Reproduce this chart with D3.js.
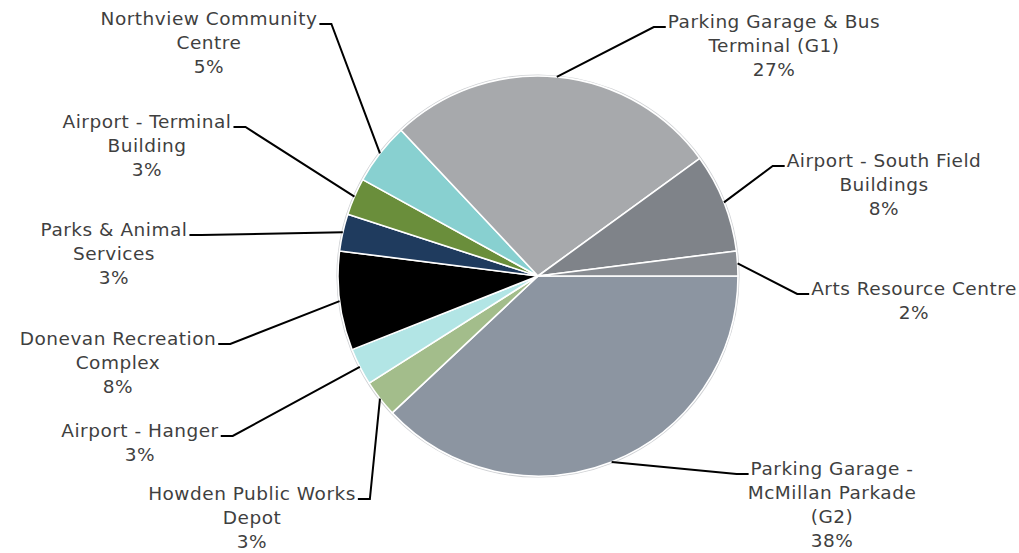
<!DOCTYPE html>
<html>
<head>
<meta charset="utf-8">
<script src="https://cdn.jsdelivr.net/npm/d3@7"></script>
<style>
  html, body { margin: 0; padding: 0; background: #ffffff; }
  svg { display: block; }
  .lbl { font-family: "DejaVu Sans", sans-serif; font-size: 18.5px; letter-spacing: 0.5px; fill: #3f3f3f; }
</style>
</head>
<body>
<svg id="chart" width="1019" height="553"></svg>
<script>
// Facilities, clockwise from the 3 o'clock position
const categories = [
  "Parking Garage -\nMcMillan Parkade\n(G2)",
  "Howden Public Works\nDepot",
  "Airport - Hanger",
  "Donevan Recreation\nComplex",
  "Parks & Animal\nServices",
  "Airport - Terminal\nBuilding",
  "Northview Community\nCentre",
  "Parking Garage & Bus\nTerminal (G1)",
  "Airport - South Field\nBuildings",
  "Arts Resource Centre"
];
// Share of total (%)
const shares = [38, 3, 3, 8, 3, 3, 5, 27, 8, 2];
const sliceColors = [
  "#8c95a1", "#a3bd8b", "#b2e5e5", "#000000", "#1f3b5e",
  "#6a8e3b", "#88d0d0", "#a7a9ac", "#7f8389", "#888c92"
];

// Label placement: block centre x, first baseline y, which side the leader enters from
const labelLayout = [
  { cx: 832, y: 475, side: "right" },
  { cx: 252, y: 500, side: "left" },
  { cx: 140, y: 437, side: "left" },
  { cx: 118, y: 345, side: "left" },
  { cx: 114, y: 236, side: "left" },
  { cx: 147, y: 128, side: "left" },
  { cx: 209, y: 25,  side: "left" },
  { cx: 774, y: 28,  side: "right" },
  { cx: 884, y: 167, side: "right" },
  { cx: 914, y: 295, side: "right" }
];

const svg = d3.select("#chart");
const cx = 538, cy = 276, radius = 200;
const lineGap = 24, elbow = 12;

const data = categories.map((c, i) => ({ name: c, value: shares[i], color: sliceColors[i], layout: labelLayout[i] }));

// d3.pie measures from 12 o'clock; start at 3 o'clock and run clockwise
const pie = d3.pie().sort(null).value(d => d.value)
  .startAngle(Math.PI / 2).endAngle(Math.PI / 2 + 2 * Math.PI);
const arcs = pie(data);
const arc = d3.arc().innerRadius(0).outerRadius(radius);

const g = svg.append("g").attr("transform", `translate(${cx},${cy})`);

// thin grey rim
g.append("circle").attr("r", radius + 0.8).attr("fill", "none")
  .attr("stroke", "#cfd1d4").attr("stroke-width", 1.6);

g.selectAll("path.slice").data(arcs).enter().append("path")
  .attr("class", "slice")
  .attr("d", arc)
  .attr("fill", d => d.data.color)
  .attr("stroke", "#ffffff")
  .attr("stroke-width", 1.6)
  .attr("stroke-linejoin", "round");

// labels and leader lines
const labels = svg.append("g");
arcs.forEach(a => {
  const L = a.data.layout;
  const lines = a.data.name.split("\n");
  const pct = Math.round(a.data.value / d3.sum(shares) * 100) + "%";
  const allLines = lines.concat([pct]);
  const t = labels.append("text").attr("class", "lbl").attr("text-anchor", "middle");
  allLines.forEach((s, k) => {
    t.append("tspan").attr("x", L.cx).attr("y", L.y + k * lineGap).text(s);
  });
  const firstW = t.select("tspan").node().getComputedTextLength();
  const mid = (a.startAngle + a.endAngle) / 2;
  const px = cx + Math.sin(mid) * radius;
  const py = cy - Math.cos(mid) * radius;
  const ly = L.y - 1;
  let tx, ex;
  if (L.side === "left") { tx = L.cx + firstW / 2 + 2; ex = tx + elbow; }
  else { tx = L.cx - firstW / 2 - 2; ex = tx - elbow; }
  labels.append("path")
    .attr("d", d3.line()([[px, py], [ex, ly], [tx, ly]]))
    .attr("fill", "none")
    .attr("stroke", "#000000")
    .attr("stroke-width", 2);
});
</script>
</body>
</html>
